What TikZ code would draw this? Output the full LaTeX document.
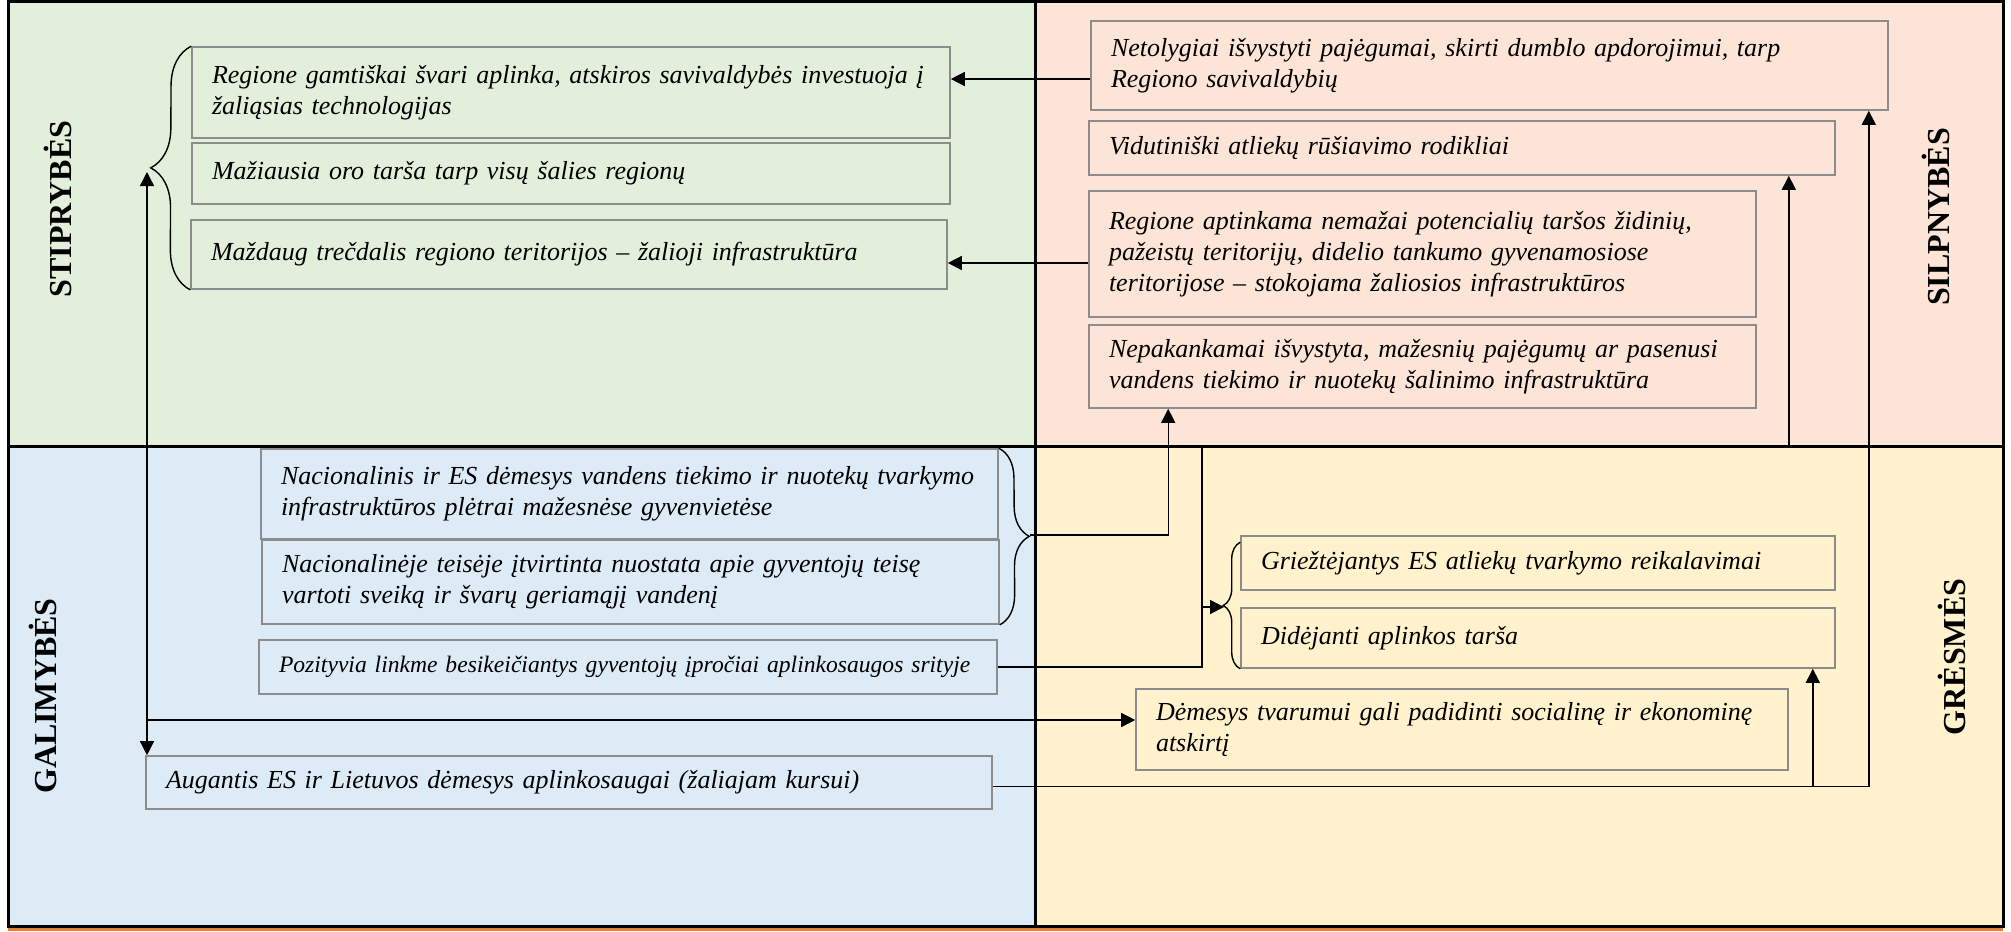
\documentclass[tikz,border=0pt]{standalone}
\usepackage{fontspec}
\setmainfont{Liberation Serif}
\usetikzlibrary{arrows.meta,decorations.pathreplacing,calc}
\definecolor{qgreen}{HTML}{E2EFDA}
\definecolor{qpeach}{HTML}{FCE4D6}
\definecolor{qblue}{HTML}{DDEBF7}
\definecolor{qyellow}{HTML}{FFF2CC}
\definecolor{qorange}{HTML}{ED7D31}
\definecolor{boxgray}{HTML}{8C8C8C}
\begin{document}
\begin{tikzpicture}[x=0.5pt,y=-0.5pt,
  itembox/.style={draw=boxgray, line width=0.8pt, align=left, inner xsep=10pt, inner ysep=0pt,
    font=\fontsize{13}{15.5}\selectfont\itshape, anchor=center},
  conn/.style={line width=0.7pt, draw=black},
  arr/.style={conn, -{Triangle[length=7pt,width=7pt]}},
  darr/.style={conn, {Triangle[length=7pt,width=7pt]}-{Triangle[length=7pt,width=7pt]}},
  quadlabel/.style={rotate=90, inner sep=0pt, font=\fontsize{16}{18}\selectfont\bfseries},
  brc/.style={line width=0.7pt, draw=black, decorate, decoration={brace, amplitude=#1}},
  frameline/.style={line width=1.5pt, draw=black}
]
\useasboundingbox (0,0) rectangle (2011,931);
% quadrants
\fill[qgreen] (8,2) rectangle (1035,446);
\fill[qpeach] (1035,2) rectangle (2003,446);
\fill[qblue] (8,446) rectangle (1035,926);
\fill[qyellow] (1035,446) rectangle (2003,926);
\fill[qorange] (8,926) rectangle (2003,931);
\draw[frameline] (8,2) rectangle (2003,926);
\draw[frameline] (1035,2) -- (1035,926);
\draw[frameline] (8,446) -- (2003,446);

% labels
\node[quadlabel] (lS) at (58,209) {STIPRYBĖS};
\node[quadlabel] (lG) at (43,696) {GALIMYBĖS};
\node[quadlabel] (lW) at (1936,217) {SILPNYBĖS};
\node[quadlabel] (lT) at (1952,657) {GRĖSMĖS};

% strengths
\node[itembox, minimum width=379pt, minimum height=45.5pt, text width=359pt] (S1) at (571,92.5)
  {Regione gamtiškai švari aplinka, atskiros savivaldybės investuoja į\\ žaliąsias technologijas};
\node[itembox, minimum width=379pt, minimum height=30.5pt, text width=359pt] (S2) at (571,173.5)
  {Mažiausia oro tarša tarp visų šalies regionų};
\node[itembox, minimum width=378pt, minimum height=34.5pt, text width=358pt] (S3) at (569,254.5)
  {Maždaug trečdalis regiono teritorijos – žalioji infrastruktūra};

% weaknesses
\node[itembox, minimum width=398.5pt, minimum height=44.5pt, text width=378.5pt] (W1) at (1489.5,65.5)
  {Netolygiai išvystyti pajėgumai, skirti dumblo apdorojimui, tarp\\ Regiono savivaldybių};
\node[itembox, minimum width=373pt, minimum height=27pt, text width=353pt] (W2) at (1462,148)
  {Vidutiniški atliekų rūšiavimo rodikliai};
\node[itembox, minimum width=333.5pt, minimum height=63pt, text width=313.5pt] (W3) at (1422.5,254)
  {Regione aptinkama nemažai potencialių taršos židinių,\\ pažeistų teritorijų, didelio tankumo gyvenamosiose\\ teritorijose – stokojama žaliosios infrastruktūros};
\node[itembox, minimum width=333.5pt, minimum height=41.5pt, text width=313.5pt] (W4) at (1422.5,366.5)
  {Nepakankamai išvystyta, mažesnių pajėgumų ar pasenusi\\ vandens tiekimo ir nuotekų šalinimo infrastruktūra};

% opportunities
\node[itembox, minimum width=368.5pt, minimum height=45pt, text width=348.5pt] (O1) at (629.5,494)
  {Nacionalinis ir ES dėmesys vandens tiekimo ir nuotekų tvarkymo\\ infrastruktūros plėtrai mažesnėse gyvenvietėse};
\node[itembox, minimum width=368.5pt, minimum height=42pt, text width=348.5pt] (O2) at (630.5,582)
  {Nacionalinėje teisėje įtvirtinta nuostata apie gyventojų teisę\\ vartoti sveiką ir švarų geriamąjį vandenį};
\node[itembox, minimum width=369pt, minimum height=27pt, text width=349pt, font=\fontsize{11.8}{14}\selectfont\itshape] (O3) at (628,667)
  {Pozityvia linkme besikeičiantys gyventojų įpročiai aplinkosaugos srityje};
\node[itembox, minimum width=423pt, minimum height=26.5pt, text width=403pt] (O4) at (569,782.5)
  {Augantis ES ir Lietuvos dėmesys aplinkosaugai (žaliajam kursui)};

% threats
\node[itembox, minimum width=297pt, minimum height=27pt, text width=277pt] (T1) at (1538,563)
  {Griežtėjantys ES atliekų tvarkymo reikalavimai};
\node[itembox, minimum width=297pt, minimum height=30pt, text width=277pt] (T2) at (1538,638)
  {Didėjanti aplinkos tarša};
\node[itembox, minimum width=326pt, minimum height=40.5pt, text width=306pt] (T3) at (1462,729.5)
  {Dėmesys tvarumui gali padidinti socialinę ir ekonominę\\ atskirtį};

% braces
\draw[brc=20pt] (S3.south west) -- (S1.north west);
\draw[brc=15pt] (O1.north east) -- (O2.south east);
\draw[brc=8.5pt] (T2.south west) -- ([yshift=-3.5pt]T1.north west);

% named points
\coordinate (sup) at (147,172);
\coordinate (jg) at (147,720);
\coordinate (obtip) at (1030,535);
\coordinate (tbtip) at (1224,607);
\coordinate (cdiv) at (1202,446);
\coordinate (o4r) at ([yshift=-2pt]O4.east);
\coordinate (t2b) at ([xshift=-11.5pt]T2.south east);
\coordinate (w2b) at ([xshift=-23.5pt]W2.south east);

% connectors
\draw[arr] ([yshift=-6.75pt]W1.west) -- ([yshift=-6.75pt]W1.west -| S1.east);
\draw[arr] ([yshift=-4.5pt]W3.west) -- ([yshift=-4.5pt]W3.west -| S3.east);
\draw[darr] (sup) -- (sup |- O4.north);
\draw[arr] (jg) -- (jg -| T3.west);
\draw[arr] (obtip) -| ([xshift=40pt]W4.south west);
\draw[conn] (O3.east) -| (cdiv);
\draw[arr] (cdiv |- tbtip) -- (tbtip);
\draw[arr] (w2b |- cdiv) -- (w2b);
\draw[arr] (o4r) -| ([xshift=-10pt]W1.south east);
\draw[arr] (t2b |- o4r) -- (t2b);
\end{tikzpicture}
\end{document}
